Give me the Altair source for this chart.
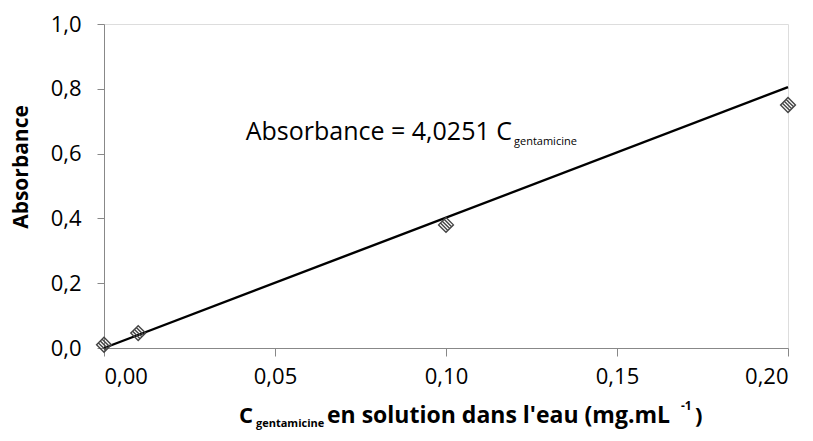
import altair as alt
import pandas as pd

# Calibration measurements: gentamicine concentration (mg/mL) vs absorbance
conc = [0.0, 0.01, 0.10, 0.20]
absorbance = [0.01, 0.046, 0.38, 0.75]

# Fitted line through the origin: Absorbance = 4,0251 C
slope = 4.0251
fit_x = [0.0, 0.20]
fit_y = [slope * v for v in fit_x]

x_ticks = [0.0, 0.05, 0.10, 0.15, 0.20]
y_ticks = [0.0, 0.2, 0.4, 0.6, 0.8, 1.0]

FONT = "Open Sans"

points = pd.DataFrame({"c": conc, "a": absorbance})
fit = pd.DataFrame({"c": fit_x, "a": fit_y})

x_scale = alt.Scale(domain=[0, 0.20], nice=False, zero=False)
y_scale = alt.Scale(domain=[0, 1.0], nice=False)

x_axis = alt.Axis(values=x_ticks, labelExpr="replace(format(datum.value, '.2f'), '.', ',')",
                  title=None, grid=False, tickSize=8, labelPadding=10,
                  labelFont=FONT, labelFontSize=22, labelColor="black")
y_axis = alt.Axis(values=y_ticks, labelExpr="replace(format(datum.value, '.1f'), '.', ',')",
                  title=None, grid=False, tickSize=7, labelPadding=16,
                  labelFont=FONT, labelFontSize=22, labelColor="black")

# Hatched diamond marker: outline plus three parallel strokes
hatched_diamond = ("M0,-1L1,0L0,1L-1,0Z"
                   "M-0.25,-0.75L0.75,0.25"
                   "M-0.5,-0.5L0.5,0.5"
                   "M-0.75,-0.25L0.25,0.75")

line = alt.Chart(fit).mark_line(color="black", strokeWidth=2.4).encode(
    x=alt.X("c:Q", scale=x_scale, axis=x_axis),
    y=alt.Y("a:Q", scale=y_scale, axis=y_axis),
)

pts = alt.Chart(points).mark_point(
    shape=hatched_diamond, size=220, filled=False, color="#444444", strokeWidth=1.4, opacity=1
).encode(x=alt.X("c:Q", scale=x_scale), y=alt.Y("a:Q", scale=y_scale))


def label(text, x, y, size, bold=False, angle=0, align="left", baseline="alphabetic"):
    return alt.Chart(pd.DataFrame({"t": [text]})).mark_text(
        font=FONT, fontSize=size, fontWeight="bold" if bold else "normal",
        align=align, baseline=baseline, angle=angle, color="black",
    ).encode(text="t:N", x=alt.value(x), y=alt.value(y))


texts = [
    # equation inside the plot
    label("Absorbance = 4,0251 C", 408, 116, 25, align="right"),
    label("gentamicine", 410, 121, 11),
    # x axis title
    label("C", 135, 399, 22, bold=True),
    label("gentamicine", 152, 403, 11, bold=True),
    label("en solution dans l'eau (mg.mL", 223, 399, 23, bold=True),
    label("-1", 577, 386, 12, bold=True),
    label(")", 591, 399, 22, bold=True),
    # y axis title
    label("Absorbance", -82, 143, 21, bold=True, angle=270, align="center", baseline="middle"),
]

chart = alt.layer(line, pts, *texts).properties(
    width=684, height=324,
    autosize=alt.AutoSizeParams(type="none"),
    padding={"left": 104, "top": 24, "right": 25, "bottom": 93},
).configure_view(stroke="black", strokeWidth=2).configure_axis(
    domainColor="black", domainWidth=2, tickColor="black", tickWidth=2,
).configure(background="white")

chart.save("out.html", embed_options={"renderer": "svg", "actions": False})
